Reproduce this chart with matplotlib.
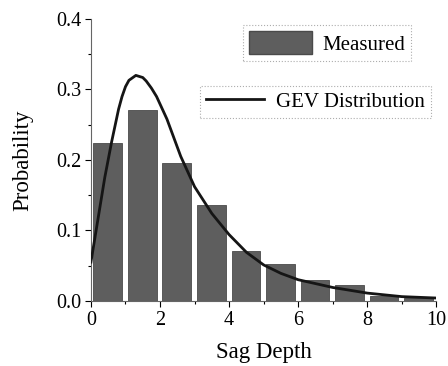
import matplotlib
matplotlib.use("Agg")
import matplotlib.pyplot as plt
from matplotlib.ticker import MultipleLocator
from matplotlib.lines import Line2D
from matplotlib.patches import Patch

# Data
bin_left = [0, 1, 2, 3, 4, 5, 6, 7, 8, 9]
measured = [0.224, 0.271, 0.196, 0.136, 0.071, 0.052, 0.029, 0.022, 0.007, 0.004]

gev_x = [0.0, 0.2, 0.4, 0.6, 0.8, 0.9, 1.0, 1.1, 1.3, 1.5, 1.6, 1.75, 1.9, 2.2,
         2.6, 3.0, 3.5, 4.0, 4.5, 5.0, 5.5, 6.0, 7.0, 8.0, 9.0, 10.0]
gev_y = [0.055, 0.115, 0.175, 0.226, 0.272, 0.290, 0.304, 0.313, 0.320, 0.317, 0.312,
         0.302, 0.290, 0.258, 0.205, 0.162, 0.124, 0.094, 0.069, 0.051, 0.039,
         0.030, 0.019, 0.011, 0.006, 0.004]

plt.rcParams['font.family'] = ['Liberation Serif', 'DejaVu Serif']

fig = plt.figure(figsize=(4.48, 3.66), dpi=100)
ax = fig.add_axes([0.203, 0.178, 0.771, 0.770])

ax.bar([b + 0.07 for b in bin_left], measured, width=0.83, align='edge',
       color='#5e5e5e', edgecolor='#4a4a4a', linewidth=0.6, zorder=2)
ax.plot(gev_x, gev_y, color='#151515', linewidth=2.0, zorder=3)

ax.set_xlim(0, 10)
ax.set_ylim(0, 0.4)
ax.xaxis.set_major_locator(MultipleLocator(2))
ax.xaxis.set_minor_locator(MultipleLocator(1))
ax.yaxis.set_major_locator(MultipleLocator(0.1))
ax.yaxis.set_minor_locator(MultipleLocator(0.05))
ax.yaxis.set_major_formatter(plt.FuncFormatter(lambda v, p: f"{v:.1f}"))
ax.tick_params(which='major', direction='out', length=4, width=0.8, labelsize=14.5, pad=3)
ax.tick_params(which='minor', direction='out', length=2.5, width=0.8)
for s in ('top', 'right'):
    ax.spines[s].set_visible(False)
ax.spines['left'].set_color('#666666')
ax.spines['bottom'].set_color('#666666')

ax.set_xlabel('Sag Depth', fontsize=16.5, labelpad=9)
ax.set_ylabel('Probability', fontsize=16.5, labelpad=16)

leg1 = ax.legend(handles=[Patch(facecolor='#5e5e5e', edgecolor='#4a4a4a')],
                 labels=['Measured'], loc='upper left',
                 bbox_to_anchor=(0.41, 1.015), fontsize=15, frameon=True,
                 fancybox=False, handlelength=3.0, handleheight=1.3,
                 borderpad=0.3, handletextpad=0.5)
leg1.get_frame().set_edgecolor('#999999')
leg1.get_frame().set_linestyle(':')
leg1.get_frame().set_linewidth(0.8)
ax.add_artist(leg1)

leg2 = ax.legend(handles=[Line2D([], [], color='#151515', linewidth=2.0)],
                 labels=['GEV Distribution'], loc='upper left',
                 bbox_to_anchor=(0.285, 0.8), fontsize=15, frameon=True,
                 fancybox=False, handlelength=2.8, borderpad=0.3,
                 handletextpad=0.55)
leg2.get_frame().set_edgecolor('#999999')
leg2.get_frame().set_linestyle(':')
leg2.get_frame().set_linewidth(0.8)

fig.savefig('out.png', dpi=100)
